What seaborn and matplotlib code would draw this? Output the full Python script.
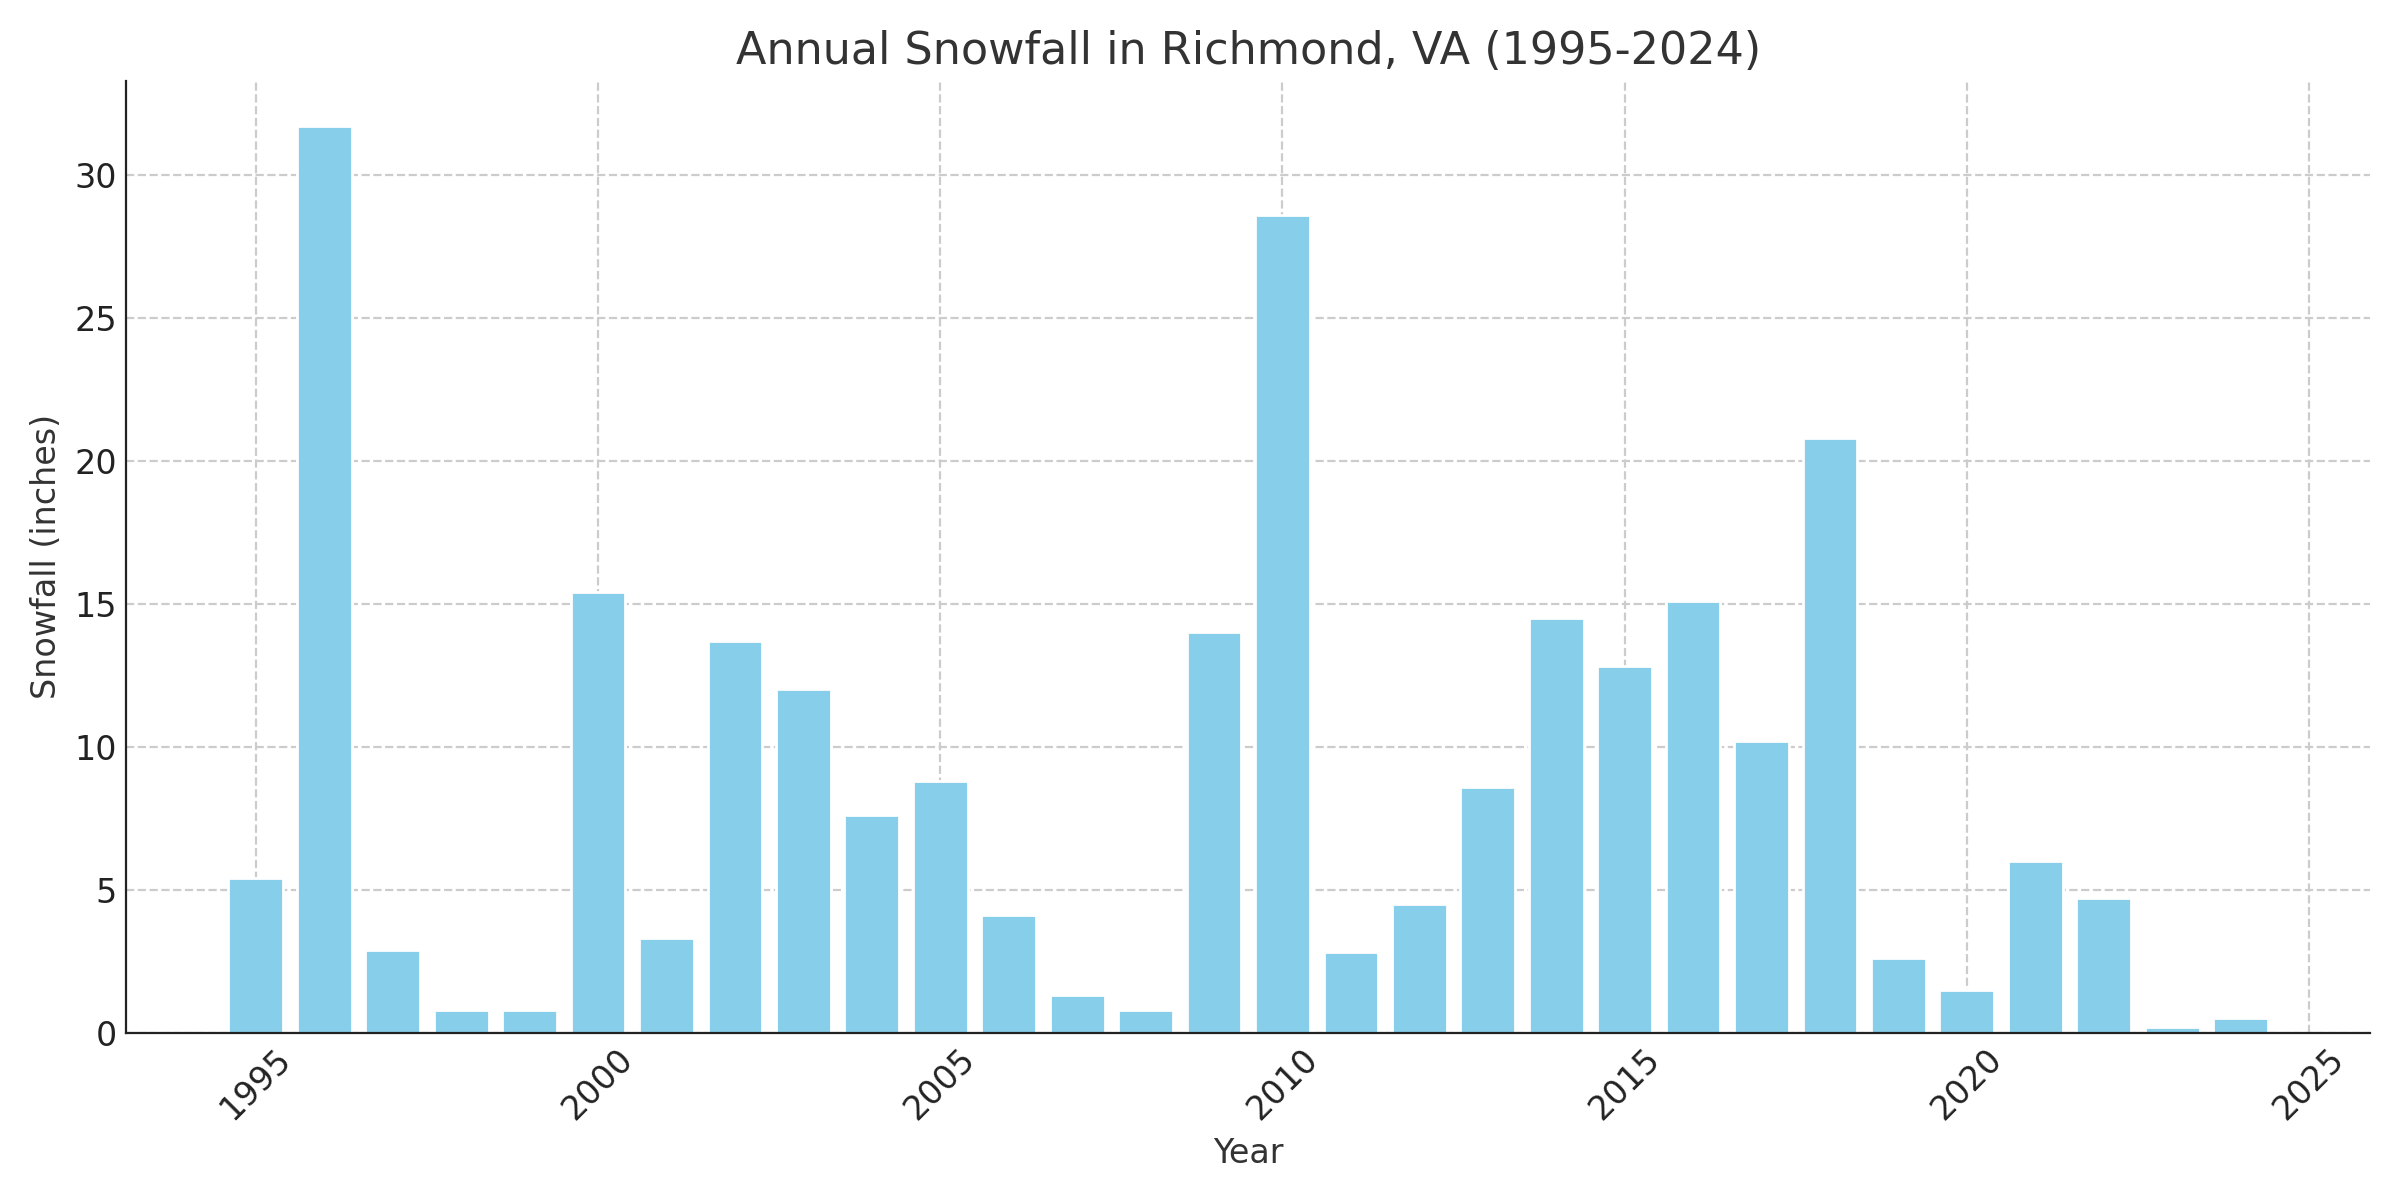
import matplotlib
matplotlib.use("Agg")
import matplotlib.pyplot as plt
import seaborn as sns

# snowfall per year
years = list(range(1995, 2025))
snowfall = [5.4, 31.7, 2.9, 0.8, 0.8, 15.4, 3.3, 13.7, 12.0, 7.6,
            8.8, 4.1, 1.3, 0.8, 14.0, 28.6, 2.8, 4.5, 8.6, 14.5,
            12.8, 15.1, 10.2, 20.8, 2.6, 1.5, 6.0, 4.7, 0.2, 0.5]

sns.set_style("white")
plt.rcParams['font.family'] = ['DejaVu Sans']

fig, ax = plt.subplots(figsize=(12, 6), dpi=200)
sns.barplot(x=years, y=snowfall, native_scale=True, color='skyblue',
            saturation=1, width=0.8, ax=ax)

ax.set_title('Annual Snowfall in Richmond, VA (1995-2024)', fontsize=16, color='#333333')
ax.set_xlabel('Year', fontsize=12, color='#333333')
ax.set_ylabel('Snowfall (inches)', fontsize=12, color='#333333')
ax.set_xticks([1995, 2000, 2005, 2010, 2015, 2020, 2025])
# default 5% margin around the bars
ax.set_xlim(1994.6 - 0.05 * 29.8, 2024.4 + 0.05 * 29.8)
ax.tick_params(axis='both', direction='in', labelsize=12, colors='#222222')
plt.setp(ax.get_xticklabels(), rotation=45)
ax.grid(True, linestyle='--', color='#cccccc', linewidth=0.8)
ax.set_axisbelow(True)
sns.despine(ax=ax)
for s in ['left', 'bottom']:
    ax.spines[s].set_color('#222222')

plt.tight_layout()
plt.savefig('out.png', dpi=200)
plt.close()
